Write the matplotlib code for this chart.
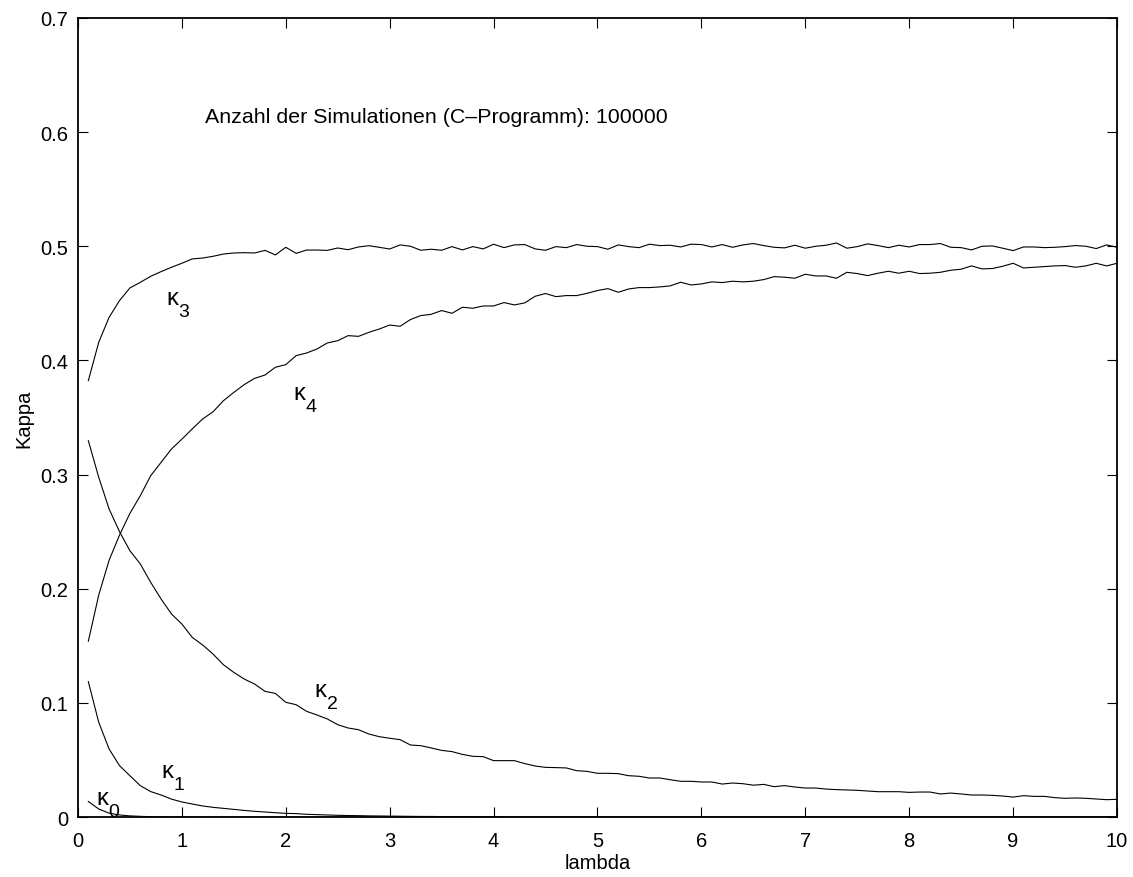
import numpy as np
import matplotlib
matplotlib.use("Agg")
import matplotlib.pyplot as plt

plt.rcParams["font.family"] = ["Liberation Sans", "DejaVu Sans"]

# lambda grid of the simulation (step 0.1)
lam = np.round(np.arange(1, 101) * 0.1, 1)

kappa0 = [
    0.0136, 0.0070, 0.0034, 0.0018, 0.0010, 0.0006, 0.0003, 0.0002, 0.0001, 0.0001,
    0.0, 0.0, 0.0, 0.0, 0.0, 0.0, 0.0, 0.0, 0.0, 0.0,
    0.0, 0.0, 0.0, 0.0, 0.0, 0.0, 0.0, 0.0, 0.0, 0.0,
    0.0, 0.0, 0.0, 0.0, 0.0, 0.0, 0.0, 0.0, 0.0, 0.0,
    0.0, 0.0, 0.0, 0.0, 0.0, 0.0, 0.0, 0.0, 0.0, 0.0,
    0.0, 0.0, 0.0, 0.0, 0.0, 0.0, 0.0, 0.0, 0.0, 0.0,
    0.0, 0.0, 0.0, 0.0, 0.0, 0.0, 0.0, 0.0, 0.0, 0.0,
    0.0, 0.0, 0.0, 0.0, 0.0, 0.0, 0.0, 0.0, 0.0, 0.0,
    0.0, 0.0, 0.0, 0.0, 0.0, 0.0, 0.0, 0.0, 0.0, 0.0,
    0.0, 0.0, 0.0, 0.0, 0.0, 0.0, 0.0, 0.0, 0.0, 0.0,
]

kappa1 = [
    0.1186, 0.0830, 0.0596, 0.0450, 0.0362, 0.0275, 0.0223, 0.0193, 0.0157, 0.0132,
    0.0114, 0.0097, 0.0085, 0.0076, 0.0067, 0.0058, 0.0050, 0.0044, 0.0038, 0.0032,
    0.0030, 0.0024, 0.0021, 0.0018, 0.0015, 0.0013, 0.0012, 0.0010, 0.0009, 0.0008,
    0.0007, 0.0006, 0.0005, 0.0005, 0.0004, 0.0004, 0.0003, 0.0003, 0.0002, 0.0002,
    0.0002, 0.0001, 0.0001, 0.0001, 0.0001, 0.0001, 0.0001, 0.0, 0.0, 0.0,
    0.0, 0.0, 0.0, 0.0, 0.0, 0.0, 0.0, 0.0, 0.0, 0.0,
    0.0, 0.0, 0.0, 0.0, 0.0, 0.0, 0.0, 0.0, 0.0, 0.0,
    0.0, 0.0, 0.0, 0.0, 0.0, 0.0, 0.0, 0.0, 0.0, 0.0,
    0.0, 0.0, 0.0, 0.0, 0.0, 0.0, 0.0, 0.0, 0.0, 0.0,
    0.0, 0.0, 0.0, 0.0, 0.0, 0.0, 0.0, 0.0, 0.0, 0.0,
]

kappa2 = [
    0.3297, 0.2976, 0.2698, 0.2500, 0.2333, 0.2217, 0.2056, 0.1910, 0.1779, 0.1691,
    0.1574, 0.1507, 0.1428, 0.1334, 0.1267, 0.1209, 0.1165, 0.1101, 0.1083, 0.1005,
    0.0984, 0.0926, 0.0894, 0.0859, 0.0809, 0.0780, 0.0765, 0.0727, 0.0704, 0.0690,
    0.0678, 0.0631, 0.0625, 0.0605, 0.0584, 0.0573, 0.0549, 0.0532, 0.0529, 0.0494,
    0.0494, 0.0494, 0.0468, 0.0447, 0.0435, 0.0433, 0.0430, 0.0406, 0.0400, 0.0383,
    0.0383, 0.0380, 0.0362, 0.0357, 0.0342, 0.0342, 0.0327, 0.0313, 0.0313, 0.0307,
    0.0307, 0.0289, 0.0298, 0.0292, 0.0279, 0.0286, 0.0266, 0.0275, 0.0263, 0.0254,
    0.0254, 0.0245, 0.0240, 0.0237, 0.0234, 0.0228, 0.0222, 0.0222, 0.0222, 0.0216,
    0.0219, 0.0219, 0.0202, 0.0210, 0.0202, 0.0193, 0.0193, 0.0190, 0.0184, 0.0175,
    0.0187, 0.0181, 0.0181, 0.0170, 0.0164, 0.0167, 0.0164, 0.0158, 0.0152, 0.0155,
]

kappa3 = [
    0.3823, 0.4159, 0.4378, 0.4524, 0.4635, 0.4684, 0.4737, 0.4778, 0.4816, 0.4851,
    0.4889, 0.4897, 0.4912, 0.4932, 0.4941, 0.4944, 0.4941, 0.4964, 0.4924, 0.4991,
    0.4938, 0.4967, 0.4967, 0.4964, 0.4985, 0.4970, 0.4994, 0.5005, 0.4991, 0.4976,
    0.5012, 0.5000, 0.4965, 0.4974, 0.4965, 0.4997, 0.4968, 0.4997, 0.4977, 0.5018,
    0.4988, 0.5012, 0.5015, 0.4977, 0.4965, 0.4997, 0.4988, 0.5015, 0.5000, 0.4997,
    0.4974, 0.5012, 0.4997, 0.4988, 0.5018, 0.5006, 0.5009, 0.4994, 0.5018, 0.5015,
    0.4994, 0.5015, 0.4991, 0.5012, 0.5024, 0.5006, 0.4991, 0.4986, 0.5009, 0.4983,
    0.5000, 0.5009, 0.5029, 0.4983, 0.4997, 0.5021, 0.5006, 0.4988, 0.5009, 0.4994,
    0.5015, 0.5015, 0.5024, 0.4991, 0.4988, 0.4968, 0.5000, 0.5003, 0.4983, 0.4962,
    0.4994, 0.4994, 0.4988, 0.4991, 0.4997, 0.5006, 0.5000, 0.4980, 0.5012, 0.4991,
]

kappa4 = [
    0.1540, 0.1945, 0.2250, 0.2470, 0.2660, 0.2815, 0.2990, 0.3107, 0.3224, 0.3310,
    0.3400, 0.3487, 0.3550, 0.3647, 0.3720, 0.3788, 0.3843, 0.3872, 0.3940, 0.3963,
    0.4042, 0.4065, 0.4100, 0.4153, 0.4173, 0.4217, 0.4211, 0.4246, 0.4275, 0.4310,
    0.4299, 0.4358, 0.4393, 0.4404, 0.4437, 0.4413, 0.4466, 0.4457, 0.4477, 0.4477,
    0.4507, 0.4486, 0.4504, 0.4562, 0.4586, 0.4559, 0.4568, 0.4568, 0.4588, 0.4612,
    0.4629, 0.4597, 0.4626, 0.4638, 0.4638, 0.4644, 0.4653, 0.4685, 0.4661, 0.4670,
    0.4688, 0.4682, 0.4694, 0.4688, 0.4694, 0.4708, 0.4734, 0.4729, 0.4720, 0.4755,
    0.4740, 0.4740, 0.4720, 0.4772, 0.4761, 0.4743, 0.4764, 0.4781, 0.4764, 0.4781,
    0.4761, 0.4764, 0.4772, 0.4790, 0.4799, 0.4828, 0.4802, 0.4805, 0.4825, 0.4851,
    0.4810, 0.4816, 0.4822, 0.4828, 0.4831, 0.4816, 0.4828, 0.4851, 0.4828, 0.4851,
]

series = [kappa0, kappa1, kappa2, kappa3, kappa4]

# curve labels: (subscript, x, y of baseline)
label_pos = [
    ("0", 0.18, 0.0114),
    ("1", 0.80, 0.0350),
    ("2", 2.28, 0.1060),
    ("3", 0.85, 0.4490),
    ("4", 2.07, 0.3662),
]

note = "Anzahl der Simulationen (C\u2013Programm): 100000"

fig = plt.figure(figsize=(11.33, 8.78), dpi=100)
ax = fig.add_axes([0.0688, 0.0683, 0.9171, 0.9101])

for ys in series:
    ax.plot(lam, ys, color="black", linewidth=0.8, solid_joinstyle="miter")

for sub, lx, ly in label_pos:
    ax.text(lx, ly, "κ", fontsize=17, ha="left", va="baseline")
    ax.annotate(sub, xy=(lx, ly), xytext=(12, -12), textcoords="offset pixels",
                fontsize=14, ha="left", va="baseline")

ax.text(1.222, 0.609, note, fontsize=15.4, ha="left", va="baseline")

ax.set_xlim(0, 10)
ax.set_ylim(0, 0.7)
ax.set_xticks(np.arange(0, 11, 1))
ax.set_yticks(np.round(np.arange(0, 0.71, 0.1), 1))
ax.set_xticklabels([str(i) for i in range(11)])
ax.set_yticklabels(["0", "0.1", "0.2", "0.3", "0.4", "0.5", "0.6", "0.7"])

ax.tick_params(direction="in", length=7, width=0.8, labelsize=14.5,
               top=True, right=True)
ax.tick_params(axis="x", pad=10)
ax.tick_params(axis="y", pad=7)
for sp in ax.spines.values():
    sp.set_linewidth(1.3)

ax.set_xlabel("lambda", fontsize=14.5, labelpad=2)
ax.set_ylabel("Kappa", fontsize=14.5, labelpad=5)

fig.savefig("out.png", dpi=100, facecolor="white")
